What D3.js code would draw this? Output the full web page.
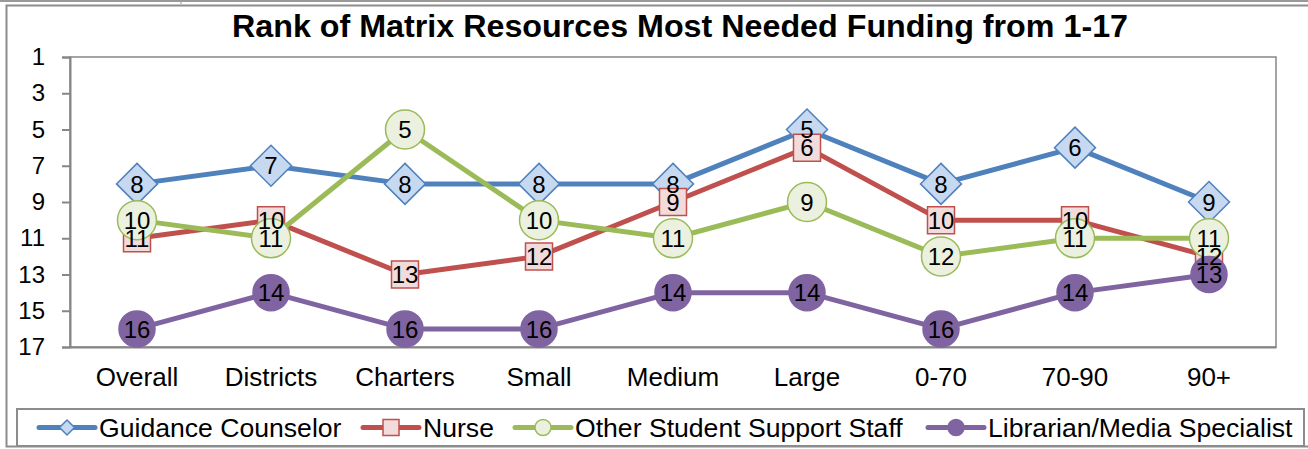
<!DOCTYPE html>
<html>
<head>
<meta charset="utf-8">
<script src="https://cdn.jsdelivr.net/npm/d3@7"></script>
<style>
  body { margin: 0; background: #fff; }
  text { font-family: "Liberation Sans", Arial, sans-serif; }
</style>
</head>
<body>
<div id="chart"></div>
<script>
(function() {
var categories = ["Overall", "Districts", "Charters", "Small", "Medium", "Large", "0-70", "70-90", "90+"];
var yTicks = [1, 3, 5, 7, 9, 11, 13, 15, 17];
var seriesNames = ["Guidance Counselor", "Nurse", "Other Student Support Staff", "Librarian/Media Specialist"];
var counselor = [8, 7, 8, 8, 8, 5, 8, 6, 9];
var nurse = [11, 10, 13, 12, 9, 6, 10, 10, 12];
var otherStaff = [10, 11, 5, 10, 11, 9, 12, 11, 11];
var librarian = [16, 14, 16, 16, 14, 14, 16, 14, 13];

var width = 1308,
  height = 449;

var plot = { left: 70, right: 1276, top: 57, bottom: 347 };

var series = [
  { name: seriesNames[0], values: counselor, color: "#4F81BD", fill: "#C6D9F1", shape: "diamond", size: 20.5 },
  { name: seriesNames[1], values: nurse, color: "#C0504D", fill: "#F2DCDB", shape: "square", size: 13.5 },
  { name: seriesNames[2], values: otherStaff, color: "#9BBB59", fill: "#EBF1DE", shape: "circle", size: 19.5 },
  { name: seriesNames[3], values: librarian, color: "#8064A2", fill: "#8064A2", shape: "circle", size: 18 }
];

var svg = d3.select("#chart")
  .append("svg")
  .attr("width", width)
  .attr("height", height)

// bits of the frame above the chart
svg.append("line").attr("x1", 0).attr("x2", width).attr("y1", 1).attr("y2", 1)
  .attr("stroke", "#999").attr("stroke-width", 2)
svg.append("line").attr("x1", 181).attr("x2", 181).attr("y1", 0).attr("y2", 4)
  .attr("stroke", "#999").attr("stroke-width", 1)

// chart border
svg.append("rect")
  .attr("x", 6.5).attr("y", 5.5)
  .attr("width", 1320).attr("height", 441)
  .attr("fill", "#fff")
  .attr("stroke", "#8c8c8c").attr("stroke-width", 2)

svg.append("text")
  .attr("x", 680).attr("y", 37)
  .attr("text-anchor", "middle")
  .attr("font-size", 32).attr("font-weight", "bold")
  .attr("textLength", 896).attr("lengthAdjust", "spacingAndGlyphs")
  .text("Rank of Matrix Resources Most Needed Funding from 1-17")

var x = d3.scaleBand().domain(categories).range([plot.left, plot.right]);
var y = d3.scaleLinear().domain([1, 17]).range([plot.top, plot.bottom]);

svg.append("rect")
  .attr("x", plot.left).attr("y", plot.top)
  .attr("width", plot.right - plot.left).attr("height", plot.bottom - plot.top)
  .attr("fill", "none").attr("stroke", "#868686").attr("stroke-width", 1.5)

var yAxis = svg.append("g")
  .attr("transform", "translate(" + plot.left + ",0)")
  .call(d3.axisLeft(y).tickValues(yTicks).tickSize(8).tickPadding(17))
yAxis.selectAll("line").attr("stroke", "#868686").attr("stroke-width", 2)
yAxis.select(".domain").attr("stroke", "#868686").attr("stroke-width", 2)
yAxis.selectAll("text").attr("font-size", 24).attr("fill", "#000")
  .attr("font-family", "'Liberation Sans', Arial, sans-serif")

var xAxis = svg.append("g")
  .attr("transform", "translate(0," + plot.bottom + ")")
  .call(d3.axisBottom(x).tickSize(0).tickPadding(21))
xAxis.select(".domain").attr("stroke", "#868686").attr("stroke-width", 2)
xAxis.selectAll("text").attr("font-size", 26).attr("fill", "#000")
  .attr("font-family", "'Liberation Sans', Arial, sans-serif")

function cx(i) { return x(categories[i]) + x.bandwidth() / 2; }

function markerPath(shape, s) {
  if (shape === "diamond") return "M0," + (-s) + "L" + s + ",0L0," + s + "L" + (-s) + ",0Z";
  if (shape === "square") return "M" + (-s) + "," + (-s) + "H" + s + "V" + s + "H" + (-s) + "Z";
  return "M" + s + ",0A" + s + "," + s + " 0 1,1 " + (-s) + ",0A" + s + "," + s + " 0 1,1 " + s + ",0Z";
}

var line = d3.line()
  .x(function(d, i) { return cx(i); })
  .y(function(d) { return y(d); })

series.forEach(function(s) {
  var g = svg.append("g");
  g.append("path")
    .attr("d", line(s.values))
    .attr("fill", "none")
    .attr("stroke", s.color)
    .attr("stroke-width", 5)
    .attr("stroke-linejoin", "round")
  g.selectAll(".marker")
    .data(s.values)
    .enter().append("path")
    .attr("class", "marker")
    .attr("transform", function(d, i) { return "translate(" + cx(i) + "," + y(d) + ")"; })
    .attr("d", markerPath(s.shape, s.size))
    .attr("fill", s.fill)
    .attr("stroke", s.color)
    .attr("stroke-width", 1.5)
})

series.forEach(function(s) {
  svg.append("g").selectAll("text")
    .data(s.values)
    .enter().append("text")
    .attr("x", function(d, i) { return cx(i); })
    .attr("y", function(d) { return y(d); })
    .attr("dy", "0.36em")
    .attr("text-anchor", "middle")
    .attr("font-size", 24)
    .text(function(d) { return d; })
})

// legend
svg.append("rect")
  .attr("x", 17).attr("y", 409)
  .attr("width", 1287).attr("height", 37)
  .attr("fill", "#fff")
  .attr("stroke", "#8c8c8c").attr("stroke-width", 2)

var legendX = [39, 363, 515, 928];
var legendSize = { diamond: 7.5, square: 8, circle: 8 };
var ly = 427.5;

series.forEach(function(s, i) {
  var g = svg.append("g").attr("transform", "translate(" + legendX[i] + "," + ly + ")");
  g.append("line")
    .attr("x1", 0).attr("x2", 56)
    .attr("stroke", s.color).attr("stroke-width", 5).attr("stroke-linecap", "round")
  g.append("path")
    .attr("transform", "translate(28,0)")
    .attr("d", markerPath(s.shape, legendSize[s.shape]))
    .attr("fill", s.fill)
    .attr("stroke", s.color)
    .attr("stroke-width", 1.5)
  g.append("text")
    .attr("x", 60).attr("dy", "0.36em")
    .attr("font-size", 26.6)
    .text(s.name)
})
})();
</script>
</body>
</html>
